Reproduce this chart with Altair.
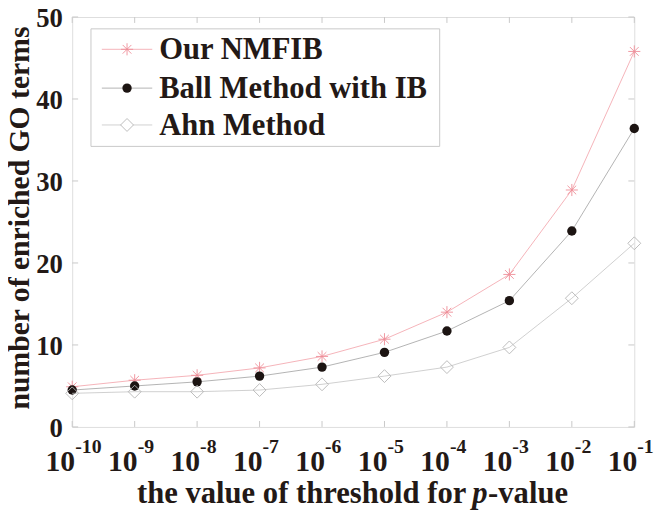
import altair as alt
import pandas as pd

# ---------------- data ----------------
exponents = [-10, -9, -8, -7, -6, -5, -4, -3, -2, -1]
thresholds = [10.0 ** e for e in exponents]
exp_labels = [str(e) for e in exponents]

series_names = ["Our NMFIB", "Ball Method with IB", "Ahn Method"]
nmfib = [4.9, 5.7, 6.3, 7.2, 8.6, 10.7, 14.0, 18.6, 28.9, 45.8]
ball = [4.5, 5.0, 5.5, 6.2, 7.3, 9.1, 11.7, 15.4, 23.9, 36.4]
ahn = [4.1, 4.3, 4.3, 4.5, 5.2, 6.2, 7.3, 9.7, 15.7, 22.4]
y_ticks = [0, 10, 20, 30, 40, 50]

# ---------------- style ----------------
W, H = 569, 415
PAD_TOP = 6
FONT = "Liberation Serif"
INK = "#231916"
FRAME = "#c8c8c8"
ASTERISK = "M-1,0L1,0M0,-1L0,1M-0.72,-0.72L0.72,0.72M-0.72,0.72L0.72,-0.72"

x_scale = alt.Scale(type="log", domain=[thresholds[0], thresholds[-1]], nice=False)
y_scale = alt.Scale(domain=[0, 50], nice=False)

y_axis = alt.Axis(
    values=y_ticks, grid=False, ticks=False, domain=False,
    labelFont=FONT, labelFontSize=27, labelFontWeight="bold", labelColor=INK,
    labelPadding=10, labelFlush=False, labelOffset=2,
    title="number of enriched GO terms", titleFont=FONT, titleFontSize=30,
    titleFontWeight="bold", titleColor=INK, titleX=-44.5, titleY=203,
    titleBaseline="alphabetic", titleAngle=270)

styles = {
    "Our NMFIB": dict(line="#f2a0a8", shape=ASTERISK, size=150, filled=False,
                      stroke="#ee8c96", fill=None, sw=0.9),
    "Ball Method with IB": dict(line="#a0a0a0", shape="circle", size=90, filled=True,
                                stroke=None, fill="#1c1412", sw=0),
    "Ahn Method": dict(line="#c4c4c4", shape="diamond", size=170, filled=False,
                       stroke="#b4b4b4", fill=None, sw=0.9),
}
values = {"Our NMFIB": nmfib, "Ball Method with IB": ball, "Ahn Method": ahn}

X = lambda: alt.X("t:Q", scale=x_scale, axis=None)
Y = lambda: alt.Y("v:Q", scale=y_scale, axis=y_axis)

layers = []

# inward ticks
xt = pd.DataFrame({"t": thresholds})
yt = pd.DataFrame({"v": y_ticks})
for y0, y1 in [(H, H - 6), (0, 6)]:
    layers.append(alt.Chart(xt).mark_rule(color=FRAME, strokeWidth=1).encode(
        x=X(), y=alt.value(y0), y2=alt.value(y1)))
for x0, x1 in [(0, 6), (W, W - 6)]:
    layers.append(alt.Chart(yt).mark_rule(color=FRAME, strokeWidth=1).encode(
        y=Y(), x=alt.value(x0), x2=alt.value(x1)))

# series
for name in series_names:
    st = styles[name]
    df = pd.DataFrame({"t": thresholds, "v": values[name]})
    layers.append(alt.Chart(df).mark_line(color=st["line"], strokeWidth=0.8).encode(x=X(), y=Y()))
    pt = dict(shape=st["shape"], size=st["size"], filled=st["filled"], opacity=1)
    if st["filled"]:
        pt.update(fill=st["fill"], strokeWidth=0)
    else:
        pt.update(stroke=st["stroke"], strokeWidth=st["sw"], fillOpacity=0)
    layers.append(alt.Chart(df).mark_point(**pt).encode(x=X(), y=Y()))

# x tick labels: 10 with superscript exponent
lab_df = pd.DataFrame({"t": thresholds, "e": exp_labels})
layers.append(alt.Chart(lab_df).mark_text(
    align="right", baseline="alphabetic", dx=3, font=FONT, fontSize=30,
    fontWeight="bold", color=INK).encode(x=X(), y=alt.value(H + 45), text=alt.value("10")))
layers.append(alt.Chart(lab_df).mark_text(
    align="left", baseline="alphabetic", dx=3, font=FONT, fontSize=20,
    fontWeight="bold", color=INK).encode(x=X(), y=alt.value(H + 26), text="e:N"))

# x title (mixed italic)
one = pd.DataFrame({"k": [0]})
TY = H + 77
for txt, xx, al, style in [("the value of threshold for", 399, "right", "normal"),
                           ("p", 405, "left", "italic"), ("-value", 421, "left", "normal")]:
    layers.append(alt.Chart(one).mark_text(
        align=al, baseline="alphabetic", font=FONT,
        fontSize=31, fontWeight="bold", fontStyle=style, color=INK).encode(
        x=alt.value(xx), y=alt.value(TY), text=alt.value(txt)))

# legend
layers.append(alt.Chart(one).mark_rect(fill="white", stroke=FRAME, strokeWidth=1).encode(
    x=alt.value(19), x2=alt.value(372), y=alt.value(12), y2=alt.value(131)))
row_y = [32.7, 72, 109.3]
for name, ry in zip(series_names, row_y):
    st = styles[name]
    layers.append(alt.Chart(one).mark_rule(color=st["line"], strokeWidth=0.8).encode(
        x=alt.value(30), x2=alt.value(81), y=alt.value(ry)))
    pt = dict(shape=st["shape"], size=st["size"], filled=st["filled"], opacity=1)
    if st["filled"]:
        pt.update(fill=st["fill"], strokeWidth=0)
    else:
        pt.update(stroke=st["stroke"], strokeWidth=st["sw"], fill="white", fillOpacity=1)
    layers.append(alt.Chart(one).mark_point(**pt).encode(x=alt.value(55.5), y=alt.value(ry)))
    layers.append(alt.Chart(one).mark_text(
        align="left", baseline="middle", font=FONT, fontSize=31, fontWeight="bold",
        color=INK, dy=1).encode(x=alt.value(88), y=alt.value(ry), text=alt.value(name)))

chart = alt.layer(*layers).properties(
    width=W, height=H,
    autosize=alt.AutoSizeParams(type="none"),
    padding={"left": 65, "top": PAD_TOP, "right": 24, "bottom": 84},
).configure_view(stroke=FRAME, strokeWidth=1).configure(background="white")

chart.save("out.html", embed_options={"renderer": "svg", "actions": False})
